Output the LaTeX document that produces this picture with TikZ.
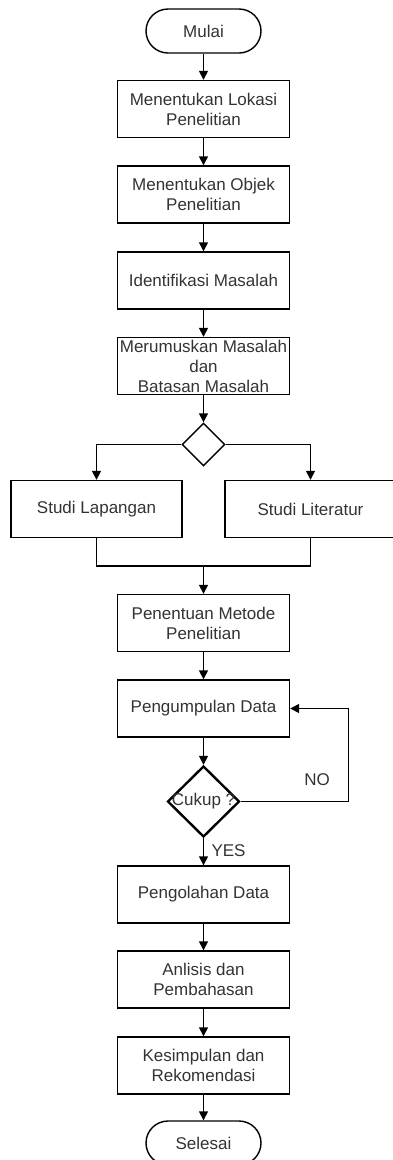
\documentclass[tikz,border=0pt]{standalone}
\usepackage{fontspec}
\setmainfont{Liberation Sans}
\usetikzlibrary{arrows.meta,shapes.geometric}

\begin{document}
\begin{tikzpicture}[x=1pt,y=-1pt,
		font=\fontsize{17}{20}\selectfont, text=black!80,
		proses/.style={draw, line width=1.4pt, minimum width=172pt, minimum height=57pt, align=center, inner sep=1pt},
		terminal/.style={draw, line width=1.4pt, rounded corners=22pt, minimum width=115pt, minimum height=44pt},
		>={Triangle[length=9pt,width=9pt]}]
			\useasboundingbox (0,0) rectangle (393,1160);
			\clip (0,0) rectangle (393,1160);
			\node[terminal] (mulai) at (203.5,31) {Mulai};
			\node[proses] (lokasi) at (203.5,109) {Menentukan Lokasi\\Penelitian};
			\node[proses] (objek) at (203.5,194.5) {Menentukan Objek\\Penelitian};
			\node[proses] (identifikasi) at (203.5,280.5) {Identifikasi Masalah};
			\node[proses] (rumusan) at (203.5,366) {Merumuskan Masalah\\dan\\Batasan Masalah};
			\node[draw, diamond, line width=1.4pt, minimum width=43pt, minimum height=43pt, inner sep=0pt] (cabang) at (203.5,444.5) {};
			\node[proses, minimum width=171pt] (lapangan) at (96.5,509) {Studi Lapangan};
			\node[proses, minimum width=171pt] (literatur) at (310.5,509) {Studi Literatur};
			\coordinate (gabung) at (203.5,566);
			\node[proses] (metode) at (203.5,623) {Penentuan Metode\\Penelitian};
			\node[proses] (kumpul) at (203.5,708.5) {Pengumpulan Data};
			\node[draw, diamond, line width=2.4pt, minimum width=72pt, minimum height=71pt, inner sep=0pt,
				label=center:{Cukup ?}] (cukup) at (203.5,801.5) {};
			\node[proses] (olah) at (203.5,894.5) {Pengolahan Data};
			\node[proses] (analisis) at (203.5,979.5) {Anlisis dan\\Pembahasan};
			\node[proses] (simpulan) at (203.5,1065.5) {Kesimpulan dan\\Rekomendasi};
			\node[terminal] (selesai) at (203.5,1143) {Selesai};
			\node (no) at (317,780) {NO};

			\path[->, line width=1.4pt]
			(mulai) edge (lokasi)
			(lokasi) edge (objek)
			(objek) edge (identifikasi)
			(identifikasi) edge (rumusan)
			(rumusan) edge (cabang)
			(gabung) edge (metode)
			(metode) edge (kumpul)
			(kumpul) edge (cukup)
			(cukup) edge node[right=4pt, pos=0.45]{YES} (olah)
			(olah) edge (analisis)
			(analisis) edge (simpulan)
			(simpulan) edge (selesai);
			\draw[->, line width=1.4pt] (cabang.west) -| (lapangan.north);
			\draw[->, line width=1.4pt] (cabang.east) -| (literatur.north);
			\draw[line width=1.4pt] (lapangan.south) |- (gabung) -| (literatur.south);
			\draw[->, line width=1.4pt] (cukup.east) -- ++(108,0) |- (kumpul.east);
\end{tikzpicture}
\end{document}
